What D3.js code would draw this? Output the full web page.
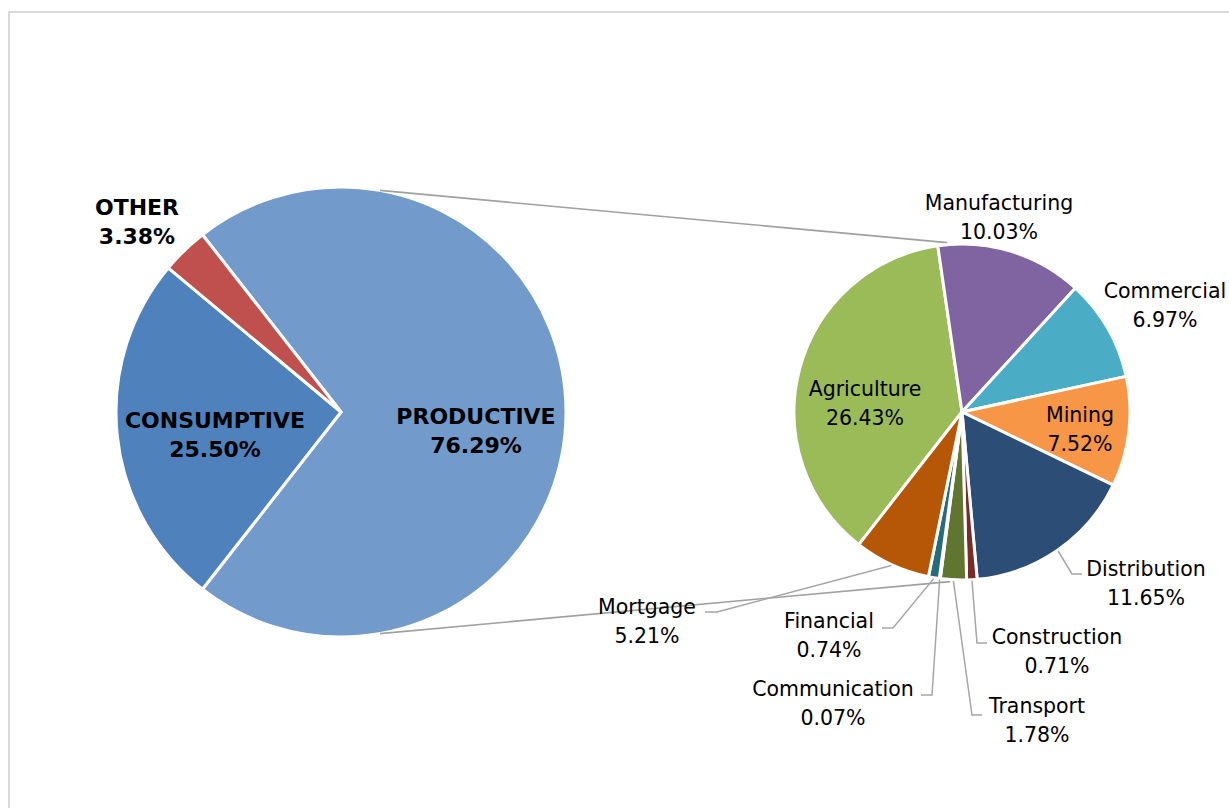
<!DOCTYPE html>
<html>
<head>
<meta charset="utf-8">
<script src="https://cdn.jsdelivr.net/npm/d3@7/dist/d3.min.js"></script>
<style>
  html, body { margin: 0; padding: 0; background: #fff; }
  svg { display: block; }
  text { font-family: "DejaVu Sans", Verdana, sans-serif; fill: #000; }
</style>
</head>
<body>
<svg id="chart" width="1229" height="808"></svg>
<script>
// ---------- DATA ----------
const mainCategories = ["PRODUCTIVE", "CONSUMPTIVE", "OTHER"];
const mainValues = [76.29, 25.50, 3.38];           // labelled percentages
const subCategories = ["Agriculture", "Manufacturing", "Commercial", "Mining", "Distribution",
                       "Construction", "Transport", "Communication", "Financial", "Mortgage"];
const subValues = [26.43, 10.03, 6.97, 7.52, 11.65, 0.71, 1.78, 0.07, 0.74, 5.21];

// ---------- STYLE / LAYOUT ----------
const mainColors = ["#729ACA", "#4F81BD", "#C0504D"];
const subColors = ["#9BBB59", "#8064A2", "#4BACC6", "#F79646", "#2C4D75",
                   "#772C2A", "#5F7530", "#4D3B62", "#276A7C", "#B65708"];
const deg = Math.PI / 180;
const main = { cx: 341, cy: 412, r: 225 };
const sub = { cx: 962, cy: 412, r: 168, start: 217.9 * deg };
const lineGap = 29;

const mainLabelPos = {
  PRODUCTIVE: { x: 476, y: 424 },
  CONSUMPTIVE: { x: 215, y: 428 },
  OTHER: { x: 137, y: 215 }
};
const subLabelPos = {
  Agriculture:   { x: 865,  y: 396 },
  Manufacturing: { x: 999,  y: 210 },
  Commercial:    { x: 1165, y: 298 },
  Mining:        { x: 1080, y: 422 },
  Distribution:  { x: 1146, y: 576, elbow: [1072, 574], end: [1082, 574] },
  Construction:  { x: 1057, y: 644, elbow: [977, 643],  end: [987, 643] },
  Transport:     { x: 1037, y: 713, elbow: [972, 715],  end: [982, 715] },
  Communication: { x: 833,  y: 696, elbow: [932, 695],  end: [921, 695] },
  Financial:     { x: 829,  y: 628, elbow: [893, 628],  end: [882, 628] },
  Mortgage:      { x: 647,  y: 614, elbow: [717, 612],  end: [705, 612] }
};

const svg = d3.select("#chart");

// chart border
svg.append("rect")
  .attr("x", 9).attr("y", 12).attr("width", 1260).attr("height", 840)
  .attr("fill", "none").attr("stroke", "#d9d9d9").attr("stroke-width", 2);

// ---------- MAIN PIE ----------
const productiveDrawn = d3.sum(subValues);      // aggregated slice = sum of breakdown
const mainDrawn = [productiveDrawn, mainValues[1], mainValues[2]];
const mainTotal = d3.sum(mainDrawn);
const prodSpan = productiveDrawn / mainTotal * 2 * Math.PI;
const mainStart = Math.PI / 2 - prodSpan / 2;

const mainPie = d3.pie().sort(null).value(d => d.v)
  .startAngle(mainStart).endAngle(mainStart + 2 * Math.PI);
const mainArcs = mainPie(mainCategories.map((c, i) => ({ c, v: mainDrawn[i], label: mainValues[i], color: mainColors[i] })));
const mainArc = d3.arc().innerRadius(0).outerRadius(main.r);

const gMain = svg.append("g").attr("transform", `translate(${main.cx},${main.cy})`);
gMain.selectAll("path").data(mainArcs).join("path")
  .attr("d", mainArc)
  .attr("fill", d => d.data.color)
  .attr("stroke", "#fff").attr("stroke-width", 3).attr("stroke-linejoin", "round");

// ---------- SUB PIE ----------
const subPie = d3.pie().sort(null).value(d => d.v)
  .startAngle(sub.start).endAngle(sub.start + 2 * Math.PI);
const subArcs = subPie(subCategories.map((c, i) => ({ c, v: subValues[i], color: subColors[i] })));
const subArc = d3.arc().innerRadius(0).outerRadius(sub.r);

// connector lines between pies
const polar = (c, r, a) => [c.cx + r * Math.sin(a), c.cy - r * Math.cos(a)];
const connectors = [
  [polar(main, main.r, 10 * deg), polar(sub, sub.r + 2, -5 * deg)],
  [polar(main, main.r, 170 * deg), polar(sub, sub.r + 2, 184 * deg)]
];
svg.append("g").selectAll("line").data(connectors).join("line")
  .attr("x1", d => d[0][0]).attr("y1", d => d[0][1])
  .attr("x2", d => d[1][0]).attr("y2", d => d[1][1])
  .attr("stroke", "#a0a0a0").attr("stroke-width", 1.6);

const gSub = svg.append("g").attr("transform", `translate(${sub.cx},${sub.cy})`);
gSub.selectAll("path").data(subArcs).join("path")
  .attr("d", subArc)
  .attr("fill", d => d.data.color)
  .attr("stroke", "#fff").attr("stroke-width", 3).attr("stroke-linejoin", "round");

// leader lines
const leaders = subArcs.filter(d => subLabelPos[d.data.c].elbow);
svg.append("g").selectAll("polyline").data(leaders).join("polyline")
  .attr("points", d => {
    const p = subLabelPos[d.data.c];
    const mid = (d.startAngle + d.endAngle) / 2;
    const s = polar(sub, sub.r + 1, mid);
    return [s, p.elbow, p.end].map(q => q.join(",")).join(" ");
  })
  .attr("fill", "none").attr("stroke", "#a6a6a6").attr("stroke-width", 1.5);

// ---------- LABELS ----------
const fmt = v => v.toFixed(2) + "%";
const mainLab = svg.append("g").selectAll("text").data(mainArcs).join("text")
  .attr("text-anchor", "middle")
  .style("font-size", "22px").style("font-weight", "bold");
mainLab.append("tspan")
  .attr("x", d => mainLabelPos[d.data.c].x).attr("y", d => mainLabelPos[d.data.c].y)
  .text(d => d.data.c);
mainLab.append("tspan")
  .attr("x", d => mainLabelPos[d.data.c].x).attr("y", d => mainLabelPos[d.data.c].y + lineGap)
  .text(d => fmt(d.data.label));

const subLab = svg.append("g").selectAll("text").data(subArcs).join("text")
  .attr("text-anchor", "middle")
  .style("font-size", "20.5px");
subLab.append("tspan")
  .attr("x", d => subLabelPos[d.data.c].x).attr("y", d => subLabelPos[d.data.c].y)
  .text(d => d.data.c);
subLab.append("tspan")
  .attr("x", d => subLabelPos[d.data.c].x).attr("y", d => subLabelPos[d.data.c].y + lineGap)
  .text(d => fmt(d.data.v));
</script>
</body>
</html>
